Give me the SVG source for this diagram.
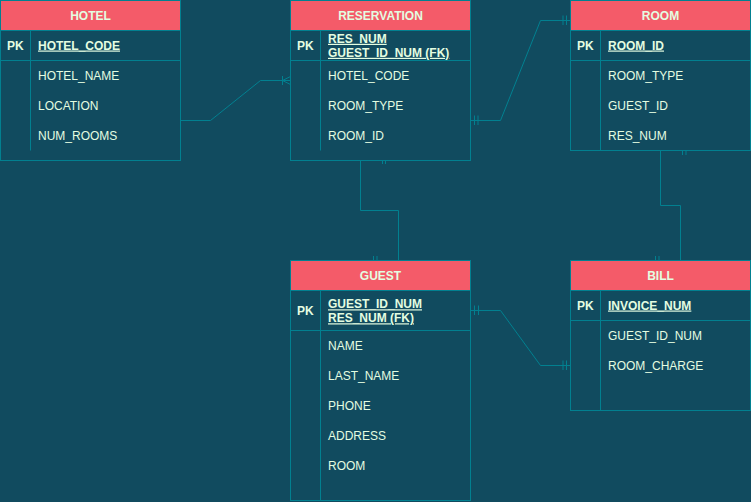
<svg xmlns="http://www.w3.org/2000/svg" width="751" height="502" viewBox="0 0 751 502">
<style>
.bg{fill:#114B5F}
.box{fill:#114B5F;stroke:#028090;stroke-width:1}
.hdr{fill:#F45B69;stroke:#028090;stroke-width:1}
.ln{fill:none;stroke:#028090;stroke-width:1}
text{font-family:"Liberation Sans",Arial,sans-serif;font-size:12px;fill:#E4FDE1}
.h{font-weight:bold;text-anchor:middle}
.pk{font-weight:bold}
.key{font-weight:bold;text-decoration:underline}
</style>
<rect class="bg" x="0" y="0" width="751" height="502"/>

<g id="connectors">
  <!-- HOTEL to RESERVATION -->
  <path class="ln" d="M180.5,120.5 H210.5 L260.5,80.5 H290.5"/>
  <path class="ln" d="M282.5,76 V85 M282.5,80.5 L290.5,76.5 M282.5,80.5 L290.5,84.5"/>
  <!-- RESERVATION to ROOM -->
  <path class="ln" d="M470.5,120.5 H500.5 L540.5,20.5 H570.5"/>
  <path class="ln" d="M474.5,115.5 V125 M478,115.5 V125 M563,15.5 V25 M566.5,15.5 V25"/>
  <!-- RESERVATION to GUEST -->
  <path class="ln" d="M360.5,160.5 V210.5 H398.5 V260.5"/>
  <path class="ln" d="M382.5,156 V164 M385.5,156 V164 M373.5,256 V265.5 M377,256 V265.5"/>
  <!-- ROOM to BILL -->
  <path class="ln" d="M660.5,150.5 V205.5 H680.5 V260.5"/>
  <path class="ln" d="M682.5,146 V155 M686,146 V155 M655.5,256 V265.5 M659,256 V265.5"/>
  <!-- GUEST to BILL -->
  <path class="ln" d="M470.5,310.5 H500.5 L540.5,365.5 H570.5"/>
  <path class="ln" d="M474.5,305.5 V315 M478.5,305.5 V315 M563,360.5 V370 M566.5,360.5 V370"/>
</g>

<g id="hotel">
  <rect class="box" x="0.5" y="0.5" width="180" height="160"/>
  <rect class="hdr" x="0.5" y="0.5" width="180" height="30"/>
  <path class="ln" d="M0.5,60.5 H180.5 M30.5,30.5 V150.5"/>
  <text class="h" x="90.5" y="19.5">HOTEL</text>
  <text class="pk" x="7" y="49.5">PK</text>
  <text class="key" x="38" y="49.5">HOTEL_CODE</text>
  <text x="38" y="79.5">HOTEL_NAME</text>
  <text x="38" y="109.5">LOCATION</text>
  <text x="38" y="139.5">NUM_ROOMS</text>
</g>

<g id="reservation">
  <rect class="box" x="290.5" y="0.5" width="180" height="160"/>
  <rect class="hdr" x="290.5" y="0.5" width="180" height="30"/>
  <path class="ln" d="M290.5,60.5 H470.5 M320.5,30.5 V150.5"/>
  <text class="h" x="380.5" y="19.5">RESERVATION</text>
  <text class="pk" x="297" y="49.5">PK</text>
  <text class="key" x="328" y="42.8">RES_NUM</text>
  <text class="key" x="328" y="56.8">GUEST_ID_NUM (FK)</text>
  <text x="328" y="79.5">HOTEL_CODE</text>
  <text x="328" y="109.5">ROOM_TYPE</text>
  <text x="328" y="139.5">ROOM_ID</text>
</g>

<g id="room">
  <rect class="box" x="570.5" y="0.5" width="180" height="150"/>
  <rect class="hdr" x="570.5" y="0.5" width="180" height="30"/>
  <path class="ln" d="M570.5,60.5 H750.5 M600.5,30.5 V150.5"/>
  <text class="h" x="660.5" y="19.5">ROOM</text>
  <text class="pk" x="577" y="49.5">PK</text>
  <text class="key" x="608" y="49.5">ROOM_ID</text>
  <text x="608" y="79.5">ROOM_TYPE</text>
  <text x="608" y="109.5">GUEST_ID</text>
  <text x="608" y="139.5">RES_NUM</text>
</g>

<g id="guest">
  <rect class="box" x="290.5" y="260.5" width="180" height="240"/>
  <rect class="hdr" x="290.5" y="260.5" width="180" height="30"/>
  <path class="ln" d="M290.5,330.5 H470.5 M320.5,290.5 V500.5"/>
  <text class="h" x="380.5" y="279.5">GUEST</text>
  <text class="pk" x="297" y="314.5">PK</text>
  <text class="key" x="328" y="308.3">GUEST_ID_NUM</text>
  <text class="key" x="328" y="322.3">RES_NUM (FK)</text>
  <text x="328" y="349.5">NAME</text>
  <text x="328" y="379.5">LAST_NAME</text>
  <text x="328" y="409.5">PHONE</text>
  <text x="328" y="439.5">ADDRESS</text>
  <text x="328" y="469.5">ROOM</text>
</g>

<g id="bill">
  <rect class="box" x="570.5" y="260.5" width="180" height="150"/>
  <rect class="hdr" x="570.5" y="260.5" width="180" height="30"/>
  <path class="ln" d="M570.5,320.5 H750.5 M600.5,290.5 V410.5"/>
  <text class="h" x="660.5" y="279.5">BILL</text>
  <text class="pk" x="577" y="309.5">PK</text>
  <text class="key" x="608" y="309.5">INVOICE_NUM</text>
  <text x="608" y="339.5">GUEST_ID_NUM</text>
  <text x="608" y="369.5">ROOM_CHARGE</text>
</g>
</svg>
